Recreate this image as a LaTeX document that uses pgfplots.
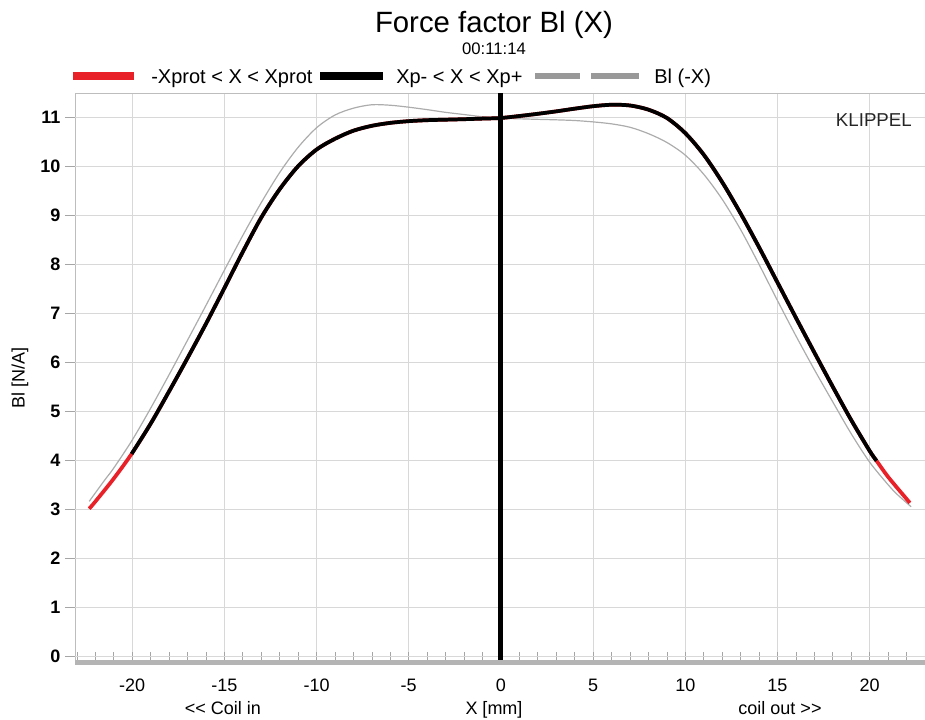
\documentclass[border=0pt]{standalone}
\usepackage{fontspec}
\setmainfont{Liberation Sans}
\usepackage{pgfplots}
\pgfplotsset{compat=1.18}
\usepackage{pgfplotstable}

\definecolor{klred}{RGB}{232,32,40}
\definecolor{gridgray}{RGB}{216,216,216}
\definecolor{tickgray}{RGB}{165,165,165}
\definecolor{bargray}{RGB}{180,180,180}
\definecolor{mirrorgray}{RGB}{172,172,172}

% Bl(X), full range (red), black between Xp- and Xp+
\pgfplotstableread{
x y
-22.33 3.01
-22 3.155
-21 3.625
-20.03 4.13
-19 4.745
-18 5.405
-17 6.085
-16 6.785
-15 7.515
-14 8.255
-13 8.955
-12 9.535
-11 10.005
-10 10.345
-9 10.565
-8 10.73
-7 10.83
-6 10.89
-5 10.925
-4 10.945
-3 10.955
-2 10.965
-1 10.977
0 10.99
1 11.03
2 11.075
3 11.125
4 11.18
5 11.23
6 11.26
7 11.245
8 11.16
9 10.99
10 10.68
11 10.24
12 9.68
13 9.04
14 8.35
15 7.63
16 6.91
17 6.20
18 5.50
19 4.82
20 4.19
20.37 3.99
21 3.66
22 3.21
22.18 3.13
}\blcurve

% Bl(-X)
\pgfplotstableread{
x y
-22.33 3.16
-21.5 3.59
-21 3.84
-20 4.41
-19 5.06
-18 5.745
-17 6.45
-16 7.16
-15 7.88
-14 8.59
-13 9.26
-12 9.875
-11 10.39
-10 10.79
-9 11.05
-8 11.19
-7 11.26
-6 11.25
-5 11.21
-4 11.16
-3 11.105
-2 11.06
-1 11.015
0 10.985
1 10.973
2 10.962
3 10.952
4 10.938
5 10.91
6 10.87
7 10.80
8 10.67
9 10.49
10 10.23
11 9.84
12 9.33
13 8.71
14 8.00
15 7.26
16 6.54
17 5.85
18 5.19
19 4.54
20 3.96
21 3.50
21.5 3.30
22.25 3.05
}\blmirror

\begin{document}
\begin{tikzpicture}
\begin{axis}[
  scale only axis, width=637.5pt, height=426.75pt,
  at={(0,0)}, anchor=south west,
  xmin=-23.1, xmax=23, ymin=-0.12, ymax=11.5,
  xtick={-20,-15,...,20},
  xticklabels={-20,-15,-10,-5,0,5,10,15,20},
  minor xtick={-23,-22,...,23},
  ytick=\empty,
  minor ytick={0,0.2,...,11.4},
  extra y ticks={0,1,...,11},
  extra y tick style={tick align=outside, grid=major,
    tick label style={font=\fontsize{13.5}{16}\selectfont\bfseries}},
  /pgf/number format/assume math mode=true,
  tick pos=left,
  grid=major,
  grid style={gridgray, line width=0.6pt},
  tick align=inside,
  major tick length=7.5pt, minor tick length=7.5pt,
  tick style={tickgray, line width=0.5pt},
  axis line style={gridgray!70!gray, line width=0.6pt},
  tick label style={font=\fontsize{13.5}{16}\selectfont},
  xticklabel style={yshift=-9pt},
  clip=false,
]
  \addplot[mirrorgray, line width=0.9pt, smooth] table {\blmirror};
  \addplot[klred, line width=2.8pt, smooth] table {\blcurve};
  \addplot[black, line width=2.8pt, smooth] table[restrict x to domain=-20.05:20.4] {\blcurve};
  \addplot[black, line width=3.75pt] coordinates {(0,-0.12) (0,11.5)};
  \draw[bargray, line width=3.75pt] (rel axis cs:0,0) -- (rel axis cs:1,0);
\end{axis}

% titles
\node[anchor=base, font=\fontsize{22}{26}\selectfont] at (314.25pt,471.75pt) {Force factor Bl (X)};
\node[anchor=base, font=\fontsize{12.5}{15}\selectfont] at (314.25pt,455.25pt) {00:11:14};

% legend
\draw[klred, line width=6pt] (-1.5pt,439.5pt) -- (44.25pt,439.5pt);
\node[anchor=base west, inner sep=0pt, font=\fontsize{15}{18}\selectfont] at (57pt,434pt) {-Xprot < X < Xprot};
\draw[black, line width=6pt] (183.75pt,439.5pt) -- (231pt,439.5pt);
\node[anchor=base west, inner sep=0pt, font=\fontsize{15}{18}\selectfont] at (240.75pt,434pt) {Xp- < X < Xp+};
\draw[gray!80, line width=4.5pt] (345pt,439.5pt) -- (378.75pt,439.5pt) (387pt,439.5pt) -- (423pt,439.5pt);
\node[anchor=base west, inner sep=0pt, font=\fontsize{15}{18}\selectfont] at (434.25pt,434pt) {Bl (-X)};

\node[anchor=base east, inner sep=0pt, font=\fontsize{14}{17}\selectfont, text=black!85] at (627.75pt,401.6pt) {KLIPPEL};

% axis texts
\node[anchor=base, inner sep=0pt, font=\fontsize{13.5}{16}\selectfont] at (111pt,-39pt) {<\kern0pt< Coil in};
\node[anchor=base, inner sep=0pt, font=\fontsize{13.5}{16}\selectfont] at (314.25pt,-39pt) {X [mm]};
\node[anchor=base, inner sep=0pt, font=\fontsize{13.5}{16}\selectfont] at (528.75pt,-39pt) {coil out >\kern0pt>};
\node[rotate=90, font=\fontsize{13.5}{16}\selectfont] at (-41.25pt,213pt) {Bl [N/A]};

\pgfresetboundingbox
\path[use as bounding box] (-56.25pt,-42.75pt) rectangle (637.5pt,496.5pt);
\end{tikzpicture}
\end{document}
